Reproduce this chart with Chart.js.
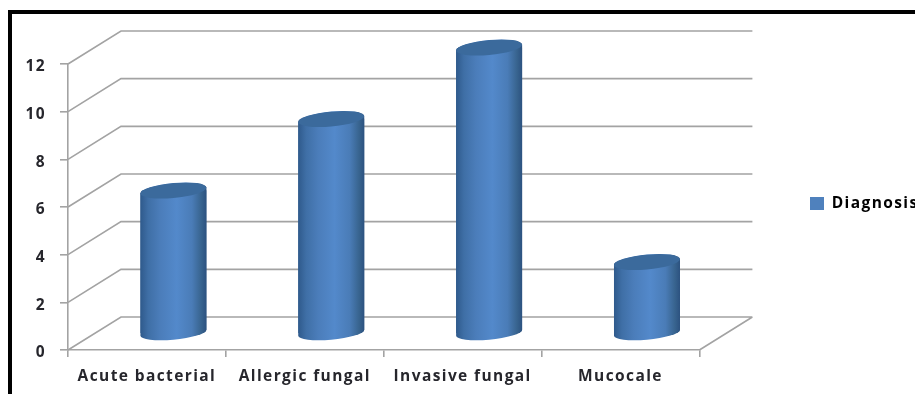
<!DOCTYPE html>
<html>
<head>
<meta charset="utf-8">
<title>Diagnosis</title>
<script src="https://cdn.jsdelivr.net/npm/chart.js@4/dist/chart.umd.min.js"></script>
<style>
    html, body { margin: 0; background: #fff; overflow: hidden; }
    #wrap { position: relative; width: 915px; height: 394px; overflow: hidden; }
    #frame {
        position: absolute; left: 8px; top: 10px; width: 1000px; height: 500px;
        border-left: 4px solid #000; border-top: 4px solid #000;
    }
    canvas { position: absolute; left: 0; top: 0; }
</style>
</head>
<body>
<div id="wrap">
    <canvas id="diagnosisChart" width="915" height="394"></canvas>
    <div id="frame"></div>
</div>
<script>
const categories = ['Acute bacterial', 'Allergic fungal', 'Invasive fungal', 'Mucocale'];
const seriesName = 'Diagnosis';
const seriesValues = [6, 9, 12, 3];
const yTickValues = [0, 2, 4, 6, 8, 10, 12];

const depthX = 53;
const depthY = 33;
const tilt = 0.09;
const wallColor = '#a3a3a3';
const capColor = '#3b6a9c';
const textColor = '#26262c';
const labelFont = { family: 'Open Sans', size: 15.5, weight: '700' };

// left-to-right shading that makes a bar look round
const cylinderFill = (ctx, left, right) => {
    const g = ctx.createLinearGradient(left, 0, right, 0);
    g.addColorStop(0, '#2f5a8c');
    g.addColorStop(0.12, '#3f6fa6');
    g.addColorStop(0.3, '#4b7dba');
    g.addColorStop(0.55, '#5389cb');
    g.addColorStop(0.78, '#4a7cb7');
    g.addColorStop(0.92, '#38648f');
    g.addColorStop(1, '#2c5280');
    return g;
};

// outline of one cylinder: top half of the cap, then the lower half of the base
const traceCylinder = (ctx, bar) => {
    const a = bar.width / 2;
    ctx.save();
    ctx.translate(bar.x, 0);
    ctx.transform(1, -tilt, 0, 1, 0, 0);
    ctx.moveTo(-a, bar.y);
    ctx.ellipse(0, bar.y, a, 7.5, 0, Math.PI, 0, false);
    ctx.lineTo(a, bar.base);
    ctx.ellipse(0, bar.base, a, 7, 0, 0, Math.PI, false);
    ctx.closePath();
    ctx.restore();
};

const walls3d = {
    id: 'walls3d',
    beforeUpdate(chart) {
        chart.ctx.letterSpacing = '1.4px';
    },
    afterLayout(chart) {
        // legend sits further out than the default box
        const legend = chart.legend;
        legend.left = 800;
        legend.right = 930;
        legend.top = 150;
        legend.bottom = 257;
    },
    beforeDatasetsDraw(chart) {
        const { ctx, chartArea: area, scales } = chart;
        ctx.save();
        ctx.strokeStyle = wallColor;
        ctx.lineWidth = 1.6;
        ctx.beginPath();
        yTickValues.forEach(v => {
            const y = scales.y.getPixelForValue(v);
            ctx.moveTo(area.left, y);
            ctx.lineTo(area.left + depthX, y - depthY);
            ctx.lineTo(area.right + depthX, y - depthY);
        });
        ctx.moveTo(area.right, area.bottom);
        ctx.lineTo(area.right + depthX, area.bottom - depthY);
        ctx.stroke();
        ctx.restore();

        // bars stand in the middle of the floor, so shift them half the depth
        ctx.save();
        ctx.translate(depthX / 2, -depthY / 2);
        const bars = chart.getDatasetMeta(0).data;
        bars.forEach(bar => {
            const half = bar.width / 2;
            ctx.fillStyle = cylinderFill(ctx, bar.x - half, bar.x + half);
            ctx.beginPath();
            traceCylinder(ctx, bar);
            ctx.fill();
        });
        // keep the square bar corners inside the round outline
        ctx.beginPath();
        bars.forEach(bar => traceCylinder(ctx, bar));
        ctx.clip();
    },
    afterDatasetsDraw(chart) {
        const { ctx } = chart;
        chart.getDatasetMeta(0).data.forEach(bar => {
            ctx.save();
            ctx.translate(bar.x, 0);
            ctx.transform(1, -tilt, 0, 1, 0, 0);
            ctx.fillStyle = capColor;
            ctx.beginPath();
            ctx.ellipse(0, bar.y, bar.width / 2, 7.5, 0, 0, Math.PI * 2);
            ctx.fill();
            ctx.restore();
        });
        ctx.restore();
    }
};

new Chart(document.getElementById('diagnosisChart'), {
    type: 'bar',
    data: {
        labels: categories,
        datasets: [{
            label: seriesName,
            data: seriesValues,
            barThickness: 66,
            backgroundColor: c => {
                const x = c.chart.scales.x;
                if (!x) return '#4f81bd';
                const mid = x.getPixelForValue(c.dataIndex);
                return cylinderFill(c.chart.ctx, mid - 33, mid + 33);
            }
        }]
    },
    plugins: [walls3d],
    options: {
        responsive: false,
        animation: false,
        layout: {
            autoPadding: false,
            padding: { left: 0, top: 64, right: 87, bottom: 0 }
        },
        plugins: {
            tooltip: { enabled: false },
            legend: {
                position: 'right',
                labels: {
                    boxWidth: 14,
                    boxHeight: 13,
                    padding: 10,
                    color: textColor,
                    font: labelFont,
                    generateLabels: () => [{
                        text: seriesName,
                        fillStyle: '#4f81bd',
                        strokeStyle: '#4f81bd',
                        lineWidth: 0,
                        datasetIndex: 0
                    }]
                }
            }
        },
        scales: {
            x: {
                afterFit: scale => { scale.height = 44; },
                border: { color: wallColor, width: 1.6 },
                grid: { drawOnChartArea: false, color: wallColor, lineWidth: 1.6, tickLength: 7 },
                ticks: { color: textColor, font: labelFont, padding: 10, maxRotation: 0, autoSkip: false }
            },
            y: {
                min: 0,
                max: 12,
                afterBuildTicks: scale => { scale.ticks = yTickValues.map(value => ({ value })); },
                afterFit: scale => { scale.width = 68; },
                border: { color: wallColor, width: 1.6 },
                grid: { drawOnChartArea: false, color: wallColor, lineWidth: 1.6, tickLength: 8 },
                ticks: { color: textColor, font: labelFont, padding: 14, labelOffset: 3 }
            }
        }
    }
});
</script>
</body>
</html>
